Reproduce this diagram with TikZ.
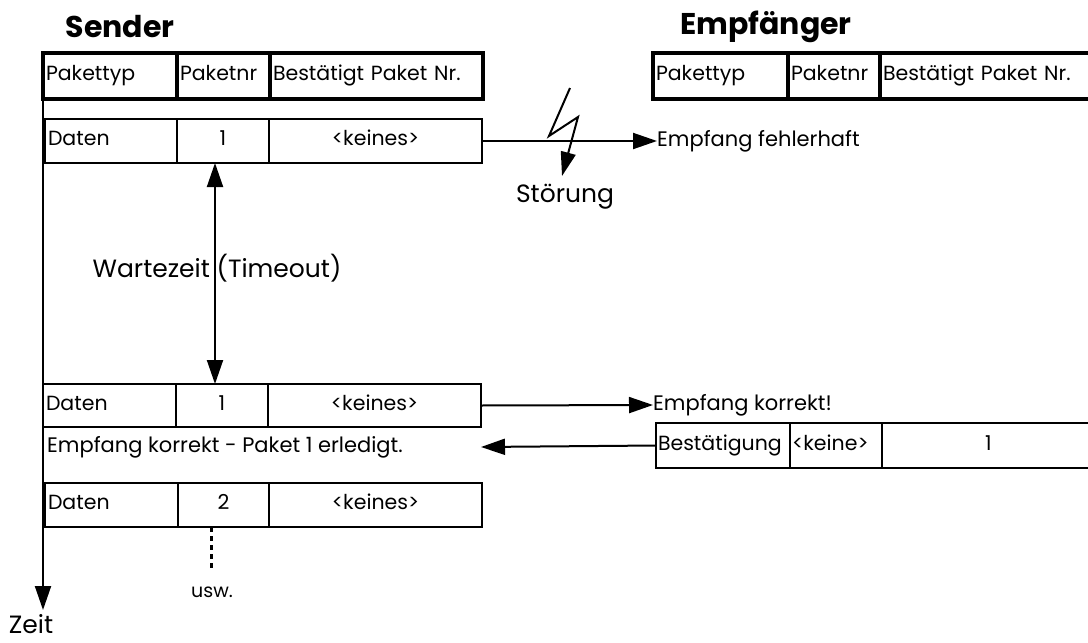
\documentclass[tikz,border=0pt]{standalone}
\usepackage{fontspec}
\setmainfont{Poppins}
\usetikzlibrary{arrows.meta}
\begin{document}
\begin{tikzpicture}[x=1pt,y=-1pt,
  base/.style={font=\fontsize{20.5}{24}\selectfont},
  cellcommon/.style={base,draw,outer sep=0pt,inner xsep=3pt,inner ysep=0pt,anchor=north west,text height=14pt,text depth=4.5pt},
  hcell/.style={cellcommon,line width=4.5pt,minimum height=46pt,align=left},
  dcell/.style={cellcommon,line width=2pt,minimum height=44pt},
  lft/.style={align=left},
  ctr/.style={align=center},
  lbl/.style={font=\fontsize{21}{24}\selectfont,inner sep=0pt},
  big/.style={font=\fontsize{25}{28}\selectfont,inner sep=0pt},
  title/.style={font=\fontsize{30}{34}\selectfont\bfseries,inner sep=0pt},
  arr/.style={line width=2pt,-{Triangle[length=24pt,width=16pt]}},
  darr/.style={line width=2pt,{Triangle[length=24pt,width=16pt]}-{Triangle[length=24pt,width=16pt]}},
]
\useasboundingbox (0,0) rectangle (1088,643);

% titles
\node[title] (sender) at (120,27) {Sender};
\node[title] (empf) at (766,27) {Empfänger};

% sender header
\node[hcell,text width=128pt] (sh1) at (43,53) {\mbox{Pakettyp}};
\node[hcell,text width=87pt] (sh2) at (sh1.north east) {\mbox{Paketnr}};
\node[hcell,text width=207pt] (sh3) at (sh2.north east) {\mbox{Bestätigt Paket Nr.}};

% receiver header
\node[hcell,text width=129pt] (eh1) at (653,53) {\mbox{Pakettyp}};
\node[hcell,text width=86pt] (eh2) at (eh1.north east) {\mbox{Paketnr}};
\node[hcell,text width=207pt] (eh3) at (eh2.north east) {\mbox{Bestätigt Paket Nr.}};

% row 1
\node[dcell,lft,text width=126pt] (r1a) at (45,119) {Daten};
\node[dcell,ctr,text width=86pt] (r1b) at (r1a.north east) {1};
\node[dcell,ctr,text width=207pt] (r1c) at (r1b.north east) {<keines>};

% row 2
\node[dcell,lft,text width=127pt,minimum height=43pt] (r2a) at (43,384) {Daten};
\node[dcell,ctr,text width=86pt,minimum height=43pt] (r2b) at (r2a.north east) {1};
\node[dcell,ctr,text width=207pt,minimum height=43pt] (r2c) at (r2b.north east) {<keines>};

% row 3
\node[dcell,lft,text width=127pt] (r3a) at (45,483) {Daten};
\node[dcell,ctr,text width=85pt] (r3b) at (r3a.north east) {2};
\node[dcell,ctr,text width=207pt] (r3c) at (r3b.north east) {<keines>};

% acknowledgement row
\node[dcell,lft,inner xsep=2pt,text width=130pt,minimum height=45pt] (a1) at (656,423) {\mbox{Bestätigung}};
\node[dcell,lft,inner xsep=2pt,text width=88pt,minimum height=45pt] (a2) at (a1.north east) {\mbox{<keine>}};
\node[dcell,ctr,text width=207pt,minimum height=45pt] (a3) at (a2.north east) {1};

% time axis
\coordinate (tend) at (43,610);
\draw[arr] (sh1.north west) -- (tend);
\node[big] (zeit) at (31,624) {Zeit};

% labels on receiver side
\node[lbl,anchor=west] (fehl) at (657,141) {Empfang fehlerhaft};
\node[lbl,anchor=west] (korr) at (653,405) {Empfang korrekt!};
\node[lbl,anchor=west] (erl) at (47,447) {Empfang korrekt - Paket 1 erledigt.};
\coordinate (back) at (481,447);

% transmissions
\draw[arr] (r1c.east) -- (fehl.west);
\draw[arr] (r2c.east) -- (korr.west);
\draw[arr] (a1.west) -- (back);

% disturbance
\draw[line width=2pt,-{Triangle[length=24pt,width=15pt]}] (570,88) -- (549,136) -- (578,117) -- (562,176);
\node[big] (stoer) at (565,197) {Störung};

% timeout
\draw[darr] ([xshift=-8pt]r1b.south) -- ([xshift=-7pt]r2b.north);
\node[big] (wait) at (217,268) {Wartezeit (Timeout)};

% continuation
\coordinate (dotend) at (211,570);
\draw[line width=3pt,dash pattern=on 5pt off 4pt] ([xshift=-12.5pt]r3b.south) -- (dotend);
\node[lbl,font=\fontsize{19}{22}\selectfont] (usw) at (212,592) {usw.};
\end{tikzpicture}
\end{document}
